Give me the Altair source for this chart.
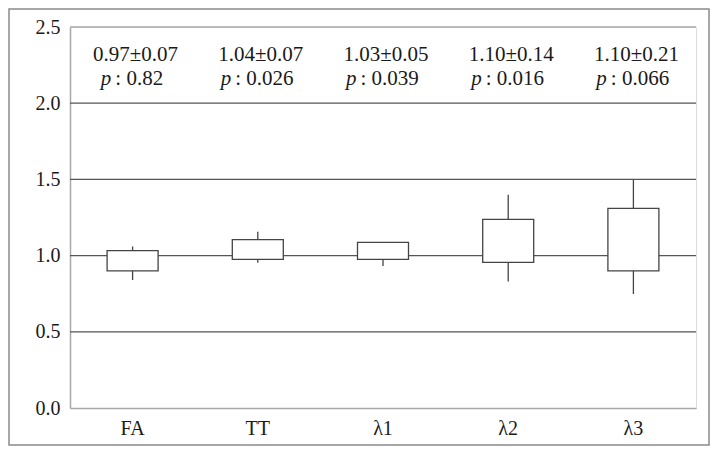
import altair as alt
import pandas as pd

cats = ["FA", "TT", "λ1", "λ2", "λ3"]
q1 = [0.90, 0.975, 0.975, 0.955, 0.90]
q3 = [1.033, 1.105, 1.087, 1.238, 1.31]
whisk_lo = [0.84, 0.953, 0.932, 0.83, 0.748]
whisk_hi = [1.06, 1.157, 1.087, 1.40, 1.50]
mean_sd = ["0.97±0.07", "1.04±0.07", "1.03±0.05", "1.10±0.14", "1.10±0.21"]
p_vals = ["0.82", "0.026", "0.039", "0.016", "0.066"]
grid_vals = [0.5, 1.0, 1.5, 2.0]
y_ticks = [0.0, 0.5, 1.0, 1.5, 2.0, 2.5]

FONT = "Liberation Serif"
FS = 20
AFS = 21
W, H = 626, 381
STEP = W / len(cats)
GAP = 4

cw = {"0": 0.5, "1": 0.5, "2": 0.5, "3": 0.5, "4": 0.5, "5": 0.5, "6": 0.5,
      "7": 0.5, "8": 0.5, "9": 0.5, ".": 0.25, ":": 0.278, "\u00a0": 0.25}
def width(s):
    return sum(cw.get(c, 0.5) for c in s) * AFS

rest = ["\u00a0:\u00a0" + p for p in p_vals]
pw = 0.5 * AFS + GAP
xo = [STEP / 2 + 2 - (pw + width(r)) / 2 + pw for r in rest]

df = pd.DataFrame({"cat": cats, "q1": q1, "q3": q3, "lo": whisk_lo, "hi": whisk_hi,
                   "ms": mean_sd, "rest": rest, "xo": xo, "p": ["p"] * len(cats)})
grid_df = pd.DataFrame({"g": grid_vals})
top_df = pd.DataFrame({"g": [2.5]})

xs = alt.X("cat:N", sort=cats, title=None,
           scale=alt.Scale(paddingInner=0, paddingOuter=0),
           axis=alt.Axis(labelAngle=0, ticks=False, domainColor="#a8a8a8", domainWidth=1.5,
                         labelFont=FONT, labelFontSize=FS, labelColor="#1a1a1a",
                         labelPadding=10, grid=False))
ys = alt.Y("q1:Q", title=None, scale=alt.Scale(domain=[0, 2.5], nice=False),
           axis=alt.Axis(values=y_ticks, format=".1f", ticks=False, grid=False,
                         domainColor="#a8a8a8", domainWidth=1.5,
                         labelFont=FONT, labelFontSize=FS, labelColor="#1a1a1a",
                         labelPadding=10))

base = alt.Chart(df)

grid = alt.Chart(grid_df).mark_rule(color="#555555", strokeWidth=1.3).encode(
    y=alt.Y("g:Q", scale=alt.Scale(domain=[0, 2.5], nice=False)))
top = alt.Chart(top_df).mark_rule(color="#a8a8a8", strokeWidth=1.5).encode(
    y=alt.Y("g:Q", scale=alt.Scale(domain=[0, 2.5], nice=False)))

whisk = base.mark_rule(color="#444444", strokeWidth=1.3).encode(
    x=xs, y=alt.Y("lo:Q"), y2="hi:Q")
box = base.mark_bar(fill="white", stroke="#444444", strokeWidth=1.3, size=51).encode(
    x=xs, y=ys, y2="q3:Q")

t1 = base.mark_text(font=FONT, fontSize=AFS, color="#1a1a1a", baseline="alphabetic",
                    align="center", dx=3).encode(x=xs, y=alt.value(34), text="ms:N")
t2 = base.mark_text(font=FONT, fontSize=AFS, color="#1a1a1a", baseline="alphabetic",
                    align="left").encode(x=xs, xOffset=alt.XOffset("xo:Q", scale=None),
                                         y=alt.value(58), text="rest:N")
t3 = base.mark_text(font=FONT, fontSize=AFS, color="#1a1a1a", baseline="alphabetic",
                    align="right", fontStyle="italic", dx=-GAP).encode(
    x=xs, xOffset=alt.XOffset("xo:Q", scale=None), y=alt.value(58), text="p:N")

frame = alt.Chart(pd.DataFrame({"a": [0]})).mark_rect(
    fill=None, stroke="#8a8a8a", strokeWidth=1.5).encode(
    x=alt.value(-61), x2=alt.value(639), y=alt.value(-18), y2=alt.value(418))

chart = alt.layer(grid, top, whisk, box, t1, t2, t3, frame).properties(
    width=W, height=H,
    autosize=alt.AutoSizeParams(type="none"),
    padding={"left": 62, "top": 19, "right": 14, "bottom": 38},
).configure_view(stroke=None).configure(background="white")

chart.save("out.html", embed_options={"renderer": "svg", "actions": False})
